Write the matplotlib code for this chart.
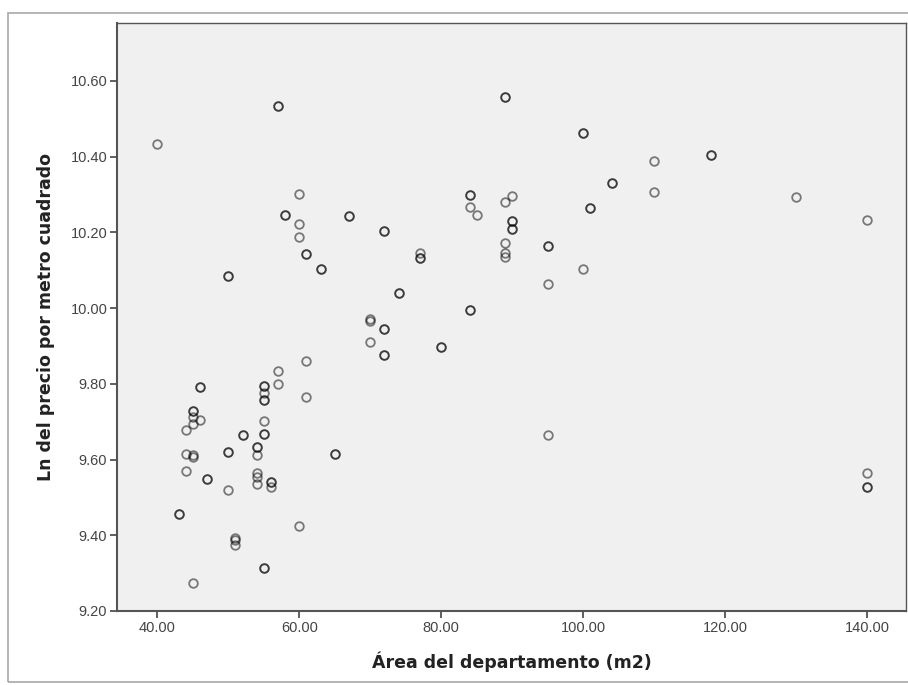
import numpy as np
import matplotlib.pyplot as plt
from matplotlib.patches import Rectangle

# Área del departamento (m2) y Ln del precio por metro cuadrado
# (los puntos repetidos son observaciones que se solapan)
area = [
    40, 60, 60, 60, 70, 61, 57, 57, 61, 55, 55, 45, 45, 46, 44, 44, 44,
    54, 54, 56, 50, 60, 51, 45, 110, 110, 84, 85, 90, 89, 89, 100, 95,
    77, 95, 130, 140, 140,
    57, 57, 58, 58, 61, 61, 63, 63, 67, 67, 72, 72, 50, 50, 74, 74,
    70, 70, 72, 72, 72, 72, 46, 46, 55, 55, 55, 55, 55, 55, 45, 45,
    45, 45, 47, 47, 50, 50, 52, 52, 54, 54, 54, 54, 56, 56, 43, 43,
    51, 51, 55, 55, 65, 65, 89, 89, 100, 100, 104, 104, 101, 101,
    84, 84, 90, 90, 90, 90, 89, 89, 95, 95, 77, 77, 84, 84, 80, 80,
    118, 118, 140, 140,
]
ln_precio = [
    10.433, 10.302, 10.221, 10.189, 9.910, 9.860, 9.834, 9.800, 9.765,
    9.775, 9.702, 9.713, 9.694, 9.704, 9.679, 9.614, 9.571, 9.613, 9.564,
    9.528, 9.519, 9.425, 9.375, 9.273, 10.389, 10.307, 10.267, 10.246,
    10.295, 10.280, 10.172, 10.103, 10.064, 10.145, 9.665, 10.294, 10.233,
    9.564,
    10.533, 10.533, 10.245, 10.245, 10.142, 10.142, 10.104, 10.104,
    10.244, 10.244, 10.205, 10.205, 10.084, 10.084, 10.041, 10.041,
    9.971, 9.966, 9.944, 9.944, 9.877, 9.877, 9.791, 9.791, 9.795, 9.795,
    9.757, 9.757, 9.667, 9.667, 9.727, 9.727, 9.612, 9.606, 9.548, 9.548,
    9.621, 9.621, 9.664, 9.664, 9.632, 9.632, 9.555, 9.535, 9.542, 9.542,
    9.455, 9.455, 9.394, 9.388, 9.314, 9.314, 9.615, 9.615, 10.559, 10.559,
    10.462, 10.462, 10.330, 10.330, 10.264, 10.264, 10.299, 10.299,
    10.231, 10.231, 10.209, 10.209, 10.145, 10.136, 10.165, 10.165,
    10.132, 10.132, 9.995, 9.995, 9.897, 9.897, 10.404, 10.404,
    9.528, 9.528,
]
x_ticks = [40, 60, 80, 100, 120, 140]
y_ticks = [9.20, 9.40, 9.60, 9.80, 10.00, 10.20, 10.40, 10.60]

fig = plt.figure(figsize=(9.08, 6.85), dpi=100)
ax = fig.add_axes([117 / 908, 1 - 611 / 685, 789 / 908, 588.3 / 685])
ax.set_facecolor('#f0f0f0')

# marco exterior del gráfico
fig.patches.append(Rectangle((8 / 908, 3 / 685), 1.0, 1 - 16 / 685,
                             transform=fig.transFigure, fill=False,
                             edgecolor='#a8a8a8', linewidth=1.2))

for x, y in zip(area, ln_precio):
    ax.plot(x, y, 'o', markersize=6.2, markerfacecolor='none',
            markeredgecolor=(0, 0, 0, 0.5), markeredgewidth=1.3)

ax.set_xlim(34.3, 145.5)
ax.set_ylim(9.2, 10.754)
ax.set_xticks(x_ticks)
ax.set_xticklabels([f'{v:.2f}' for v in x_ticks])
ax.set_yticks(y_ticks)
ax.set_yticklabels([f'{v:.2f}' for v in y_ticks])

for s in ax.spines.values():
    s.set_color('#555555')
    s.set_linewidth(1.0)
ax.spines['left'].set_linewidth(1.5)
ax.spines['bottom'].set_linewidth(1.5)

ax.tick_params(axis='both', direction='out', length=5, width=1.2,
               color='#444444', labelcolor='#444444', labelsize=10.5, pad=2)
for lab in ax.get_xticklabels() + ax.get_yticklabels():
    lab.set_family('Liberation Sans')

ax.set_xlabel('Área del departamento (m2)', fontsize=12.5, fontweight='bold',
              color='#222222', labelpad=12)
ax.set_ylabel('Ln del precio por metro cuadrado', fontsize=12.5,
              fontweight='bold', color='#222222', labelpad=11)

plt.savefig('out.png', dpi=100)
